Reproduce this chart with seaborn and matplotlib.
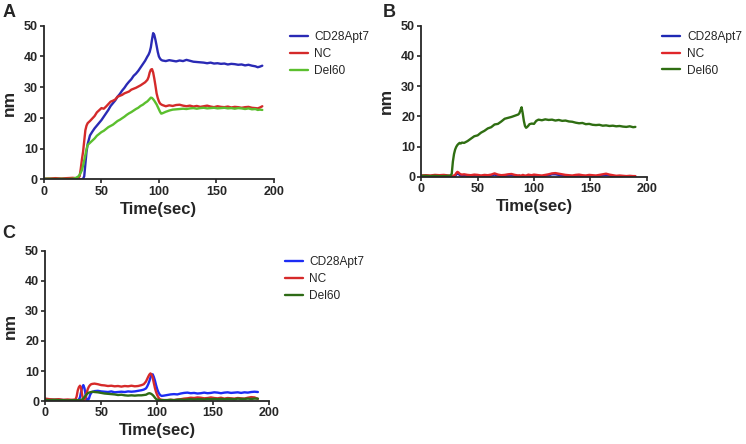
import pandas as pd
import matplotlib
matplotlib.use('Agg')
import matplotlib.pyplot as plt
import seaborn as sns

series_names = ['CD28Apt7', 'NC', 'Del60']

# panel A - time grid and responses (nm)
A_time = [0, 5, 10, 15, 20, 25, 28, 30, 31, 32, 33, 34, 35, 36, 37, 38,
          40, 42, 44, 46, 48, 50, 52, 54, 56, 58, 60, 62, 64, 66, 68, 70, 72, 74, 76, 78, 80, 82, 84, 86, 88, 90,
          91, 92, 93, 94, 95, 96, 97, 98, 99, 100, 101, 102, 103,
          106, 109, 112, 115, 118, 121, 124, 127, 130, 133, 136, 139, 142, 145, 148, 151, 154, 157, 160, 163,
          166, 169, 172, 175, 178, 181, 184,
          186, 188, 190]
A_cd28 = [0.2, 0.1, 0.2, 0.1, 0.2, 0.1, 0.1, 0.0, 0.0, 0.0, 0.0, 0.2, 1.0, 5.0, 9.0, 11.5,
          14.3, 15.5, 16.6, 17.5, 18.4, 19.3, 20.4, 21.5, 22.6, 23.9, 24.8, 25.7, 26.9, 27.8, 28.9, 29.8, 30.9,
          31.8, 32.6, 33.7, 34.4, 35.3, 36.4, 37.5, 38.6, 40.0,
          40.6, 41.5, 43.0, 45.5, 47.6, 47.0, 45.4, 43.5, 41.5, 40.0, 39.3, 38.9, 38.7,
          38.5, 38.8, 38.6, 38.4, 38.7, 38.5, 38.9, 38.6, 38.3, 38.2, 38.1, 38.0, 37.8, 38.0, 37.7, 37.8, 37.6,
          37.7, 37.4, 37.6, 37.5, 37.3, 37.4, 37.1, 37.3, 37.0, 36.8,
          36.5, 36.7, 37.0]
A_nc = [0.2, 0.3, 0.4, 0.3, 0.4, 0.5, 0.4, 0.6, 1.0, 3.5, 6.5, 9.0, 12.5, 16.0, 17.5, 18.3,
        19.0, 19.8, 20.6, 21.8, 22.5, 23.2, 23.0, 23.7, 24.5, 25.3, 25.6, 26.0, 26.9, 27.2, 27.5, 28.0, 28.3,
        28.6, 29.2, 29.5, 29.8, 30.2, 30.6, 31.1, 31.6, 32.4,
        33.3, 34.8, 35.7, 35.9, 34.8, 32.8, 30.5, 28.0, 26.5, 25.4, 24.7, 24.4, 24.2,
        23.8, 24.1, 23.9, 24.2, 24.3, 24.0, 23.8, 24.0, 23.7, 23.9, 23.6, 23.8, 24.0, 23.7, 23.5, 23.8, 23.6,
        23.5, 23.7, 23.4, 23.6, 23.5, 23.3, 23.5, 23.6, 23.3, 23.2,
        23.1, 23.4, 23.8]
A_del60 = [0.2, 0.2, 0.1, 0.2, 0.1, 0.2, 0.5, 1.0, 1.5, 2.2, 3.0, 4.5, 6.2, 8.0, 9.8, 11.2,
           11.9, 12.6, 13.3, 14.2, 14.8, 15.4, 15.8, 16.4, 17.0, 17.4, 17.8, 18.4, 19.0, 19.4, 19.9, 20.4, 21.0,
           21.5, 21.9, 22.4, 22.9, 23.3, 23.9, 24.3, 24.9, 25.4,
           25.8, 26.2, 26.6, 26.5, 26.1, 25.6, 25.0, 24.4, 23.6, 22.8, 22.0, 21.4, 21.5,
           22.0, 22.4, 22.7, 22.8, 22.9, 23.0, 22.9, 23.1, 23.2, 23.0, 23.2, 23.3, 23.1, 23.2, 23.3, 23.1, 23.2,
           23.3, 23.1, 23.2, 23.0, 23.2, 23.1, 22.9, 23.1, 22.8, 22.9,
           22.6, 22.7, 22.6]

# panel B
B_time = [0, 4, 8, 12, 16, 20, 24, 26, 27, 28, 29, 30, 31, 32, 33, 34, 35, 36,
          38, 41, 44, 47, 50, 53, 56, 59, 62, 65, 68, 71, 74, 77, 80, 83, 86,
          87, 88, 89, 90, 91, 92, 93, 94, 95, 96, 98, 100, 102, 104,
          107, 110, 113, 116, 119, 122, 125, 128, 131, 134, 137, 140, 143, 146, 149, 152, 155, 158, 161, 164,
          167, 170, 173, 176, 179, 182, 185, 188, 190]
B_cd28 = [0.2, 0.3, 0.2, 0.3, 0.2, 0.3, 0.2, 0.1, 0.1, 0.1, 0.2, 0.3, 0.7, 1.1, 0.9, 0.6, 0.4, 0.3,
          0.4, 0.3, 0.2, 0.4, 0.3, 0.2, 0.3, 0.2, 0.4, 0.7, 0.4, 0.2, 0.3, 0.4, 0.5, 0.3, 0.2,
          0.2, 0.1, 0.2, 0.3, 0.2, 0.1, 0.2, 0.2, 0.3, 0.3, 0.2, 0.3, 0.2, 0.2,
          0.1, 0.3, 0.5, 0.8, 0.8, 0.6, 0.4, 0.3, 0.2, 0.1, 0.3, 0.4, 0.2, 0.1, 0.3, 0.2, 0.1, 0.3, 0.5, 0.6,
          0.4, 0.2, 0.1, 0.1, 0.1, 0.0, 0.1, 0.0, 0.0]
B_nc = [0.4, 0.5, 0.4, 0.6, 0.5, 0.6, 0.4, 0.3, 0.2, 0.3, 0.4, 0.6, 1.2, 1.6, 1.4, 1.0, 0.8, 0.7,
        0.8, 0.6, 0.5, 0.7, 0.6, 0.4, 0.6, 0.5, 0.7, 1.1, 0.7, 0.5, 0.6, 0.8, 0.9, 0.6, 0.4,
        0.5, 0.3, 0.4, 0.6, 0.5, 0.3, 0.4, 0.5, 0.7, 0.6, 0.5, 0.7, 0.6, 0.5,
        0.4, 0.6, 0.8, 1.1, 1.2, 1.0, 0.8, 0.6, 0.5, 0.4, 0.6, 0.7, 0.5, 0.4, 0.6, 0.5, 0.4, 0.6, 0.8, 1.0,
        0.7, 0.5, 0.3, 0.4, 0.3, 0.2, 0.3, 0.2, 0.2]
B_del60 = [0.3, 0.3, 0.2, 0.3, 0.2, 0.2, 0.3, 0.4, 1.0, 5.0, 7.5, 9.0, 9.9, 10.5, 10.9, 11.2, 11.0, 11.3,
           11.2, 11.8, 12.6, 13.4, 13.7, 14.6, 15.2, 16.0, 16.4, 17.3, 17.5, 18.3, 19.2, 19.5, 19.8, 20.2, 20.6,
           21.0, 22.0, 23.0, 21.0, 18.5, 16.8, 16.2, 16.5, 16.9, 17.4, 17.6, 17.5, 18.5, 18.9,
           18.7, 19.0, 18.8, 18.9, 18.6, 18.8, 18.5, 18.6, 18.3, 18.2, 17.9, 17.7, 17.8, 17.4, 17.5, 17.2, 17.1,
           17.2, 16.9, 17.0, 16.8, 16.9, 16.7, 16.8, 16.6, 16.5, 16.7, 16.4, 16.5]

# panel C
C_time = [0, 4, 8, 12, 16, 20, 24, 27, 28, 29, 30, 31, 32, 33, 34, 35, 36, 37, 38, 39, 40, 41, 42, 44,
          47, 50, 53, 56, 59, 62, 65, 68, 71, 74, 77, 80, 83, 86, 88,
          90, 91, 92, 93, 94, 95, 96, 97, 98, 99, 100, 101, 102, 103, 104, 106,
          109, 112, 115, 118, 121, 124, 127, 130, 133, 136, 139, 142, 145, 148, 151, 154, 157, 160, 163, 166,
          169, 172, 175, 178, 181, 184, 187, 190]
C_cd28 = [0.5, 0.4, 0.3, 0.4, 0.3, 0.3, 0.2, 0.3, 0.3, 0.3, 0.4, 1.2, 3.0, 4.6, 5.3, 4.3, 2.2, 0.4, 0.2, 0.8,
          2.0, 2.7, 3.0, 3.3,
          3.4, 3.2, 3.1, 3.0, 3.2, 2.9, 3.0, 3.1, 3.0, 3.2, 3.1, 3.2, 3.4, 3.6, 3.8,
          4.2, 4.8, 5.6, 6.6, 7.8, 8.8, 8.9, 8.0, 6.8, 5.3, 4.0, 3.0, 2.3, 1.9, 1.7, 1.8,
          2.0, 2.2, 2.3, 2.2, 2.5, 2.7, 2.8, 2.6, 2.7, 2.5, 2.6, 2.8, 2.6, 2.7, 2.9, 2.8, 2.6, 2.8, 2.9, 2.7,
          2.8, 2.9, 2.7, 2.9, 2.8, 3.0, 3.1, 3.0]
C_nc = [0.8, 0.6, 0.5, 0.6, 0.4, 0.5, 0.4, 0.5, 1.5, 3.5, 4.6, 5.1, 4.3, 2.0, 0.4, 0.3, 1.0, 2.8, 4.0, 4.8,
        5.3, 5.6, 5.7, 5.8,
        5.6, 5.3, 5.2, 5.0, 5.1, 4.9, 5.0, 4.8, 5.0, 4.9, 5.1, 4.9, 5.0, 5.3, 5.6,
        6.5, 7.3, 8.1, 8.8, 9.2, 8.8, 7.8, 6.0, 4.3, 3.0, 2.0, 1.3, 0.7, 0.5, 0.4, 0.3,
        0.3, 0.4, 0.3, 0.5, 0.6, 0.8, 0.9, 1.1, 1.0, 1.2, 1.1, 0.9, 1.0, 1.2, 1.0, 0.9, 1.1, 0.8, 1.0, 0.9,
        0.8, 1.0, 0.9, 0.8, 1.1, 1.3, 1.2, 0.7]
C_del60 = [0.4, 0.3, 0.4, 0.3, 0.3, 0.2, 0.3, 0.3, 0.3, 0.3, 0.3, 0.3, 0.4, 0.5, 0.8, 1.3, 1.8, 2.2, 2.6, 2.8,
           2.9, 3.0, 3.1, 3.0,
           2.9, 2.7, 2.5, 2.4, 2.3, 2.2, 2.0, 2.1, 1.9, 1.8, 1.9, 1.8, 1.9, 1.9, 2.0,
           2.1, 2.3, 2.5, 2.6, 2.5, 2.3, 2.0, 1.6, 1.1, 0.7, 0.5, 0.4, 0.3, 0.3, 0.3, 0.3,
           0.3, 0.4, 0.3, 0.4, 0.5, 0.4, 0.5, 0.6, 0.5, 0.6, 0.6, 0.5, 0.7, 0.6, 0.7, 0.6, 0.7, 0.6, 0.7, 0.7,
           0.6, 0.8, 0.7, 0.7, 0.8, 0.7, 0.8, 0.8]

colors_A = ['#2a2ab5', '#d42a2a', '#5bbf2e']
colors_B = ['#1e28b4', '#e0262a', '#2f6e12']
colors_C = ['#1c2cf4', '#d62a2a', '#2e6b16']

sns.set_style('ticks')
plt.rcParams['font.family'] = ['Liberation Sans', 'DejaVu Sans']

fig = plt.figure(figsize=(7.46, 4.44), dpi=100)

#axes placed to match the reference layout
axA = fig.add_axes([0.059, 0.596, 0.308, 0.346])
axB = fig.add_axes([0.5648, 0.602, 0.302, 0.340])
axC = fig.add_axes([0.0607, 0.0968, 0.300, 0.338])

panels = [
    (axA, A_time, [A_cd28, A_nc, A_del60], colors_A, 'A', (0.003, 0.99)),
    (axB, B_time, [B_cd28, B_nc, B_del60], colors_B, 'B', (0.513, 0.99)),
    (axC, C_time, [C_cd28, C_nc, C_del60], colors_C, 'C', (0.003, 0.493)),
]

for ax, t, vals, cols, letter, pos in panels:
    #long form table for seaborn
    frames = []
    for name, v in zip(series_names, vals):
        frames.append(pd.DataFrame({'time': t, 'nm': v, 'series': name}))
    df = pd.concat(frames, ignore_index=True)
    sns.lineplot(data=df, x='time', y='nm', hue='series', hue_order=series_names,
                 palette=dict(zip(series_names, cols)), linewidth=1.7, ax=ax, legend=True)
    ax.set_xlim(0, 200)
    ax.set_ylim(0, 50)
    ax.set_xticks([0, 50, 100, 150, 200])
    ax.set_yticks([0, 10, 20, 30, 40, 50])
    sns.despine(ax=ax)
    for s in ['left', 'bottom']:
        ax.spines[s].set_linewidth(1.3)
    ax.tick_params(direction='out', length=3, width=1.2, pad=1.5, labelsize=9)
    for lab in ax.get_xticklabels() + ax.get_yticklabels():
        lab.set_fontweight('bold')
    ax.set_xlabel('Time(sec)', fontsize=12, fontweight='bold', labelpad=3)
    ax.set_ylabel('nm', fontsize=12.5, fontweight='bold', labelpad=5)
    ax.legend(loc='upper left', bbox_to_anchor=(1.07, 0.965), frameon=False, fontsize=8.6,
              borderaxespad=0, borderpad=0, handlelength=1.5, handletextpad=0.55, labelspacing=0.4)
    fig.text(pos[0], pos[1], letter, fontsize=13, fontweight='bold', va='top', ha='left')

plt.savefig('out.png', dpi=100)
